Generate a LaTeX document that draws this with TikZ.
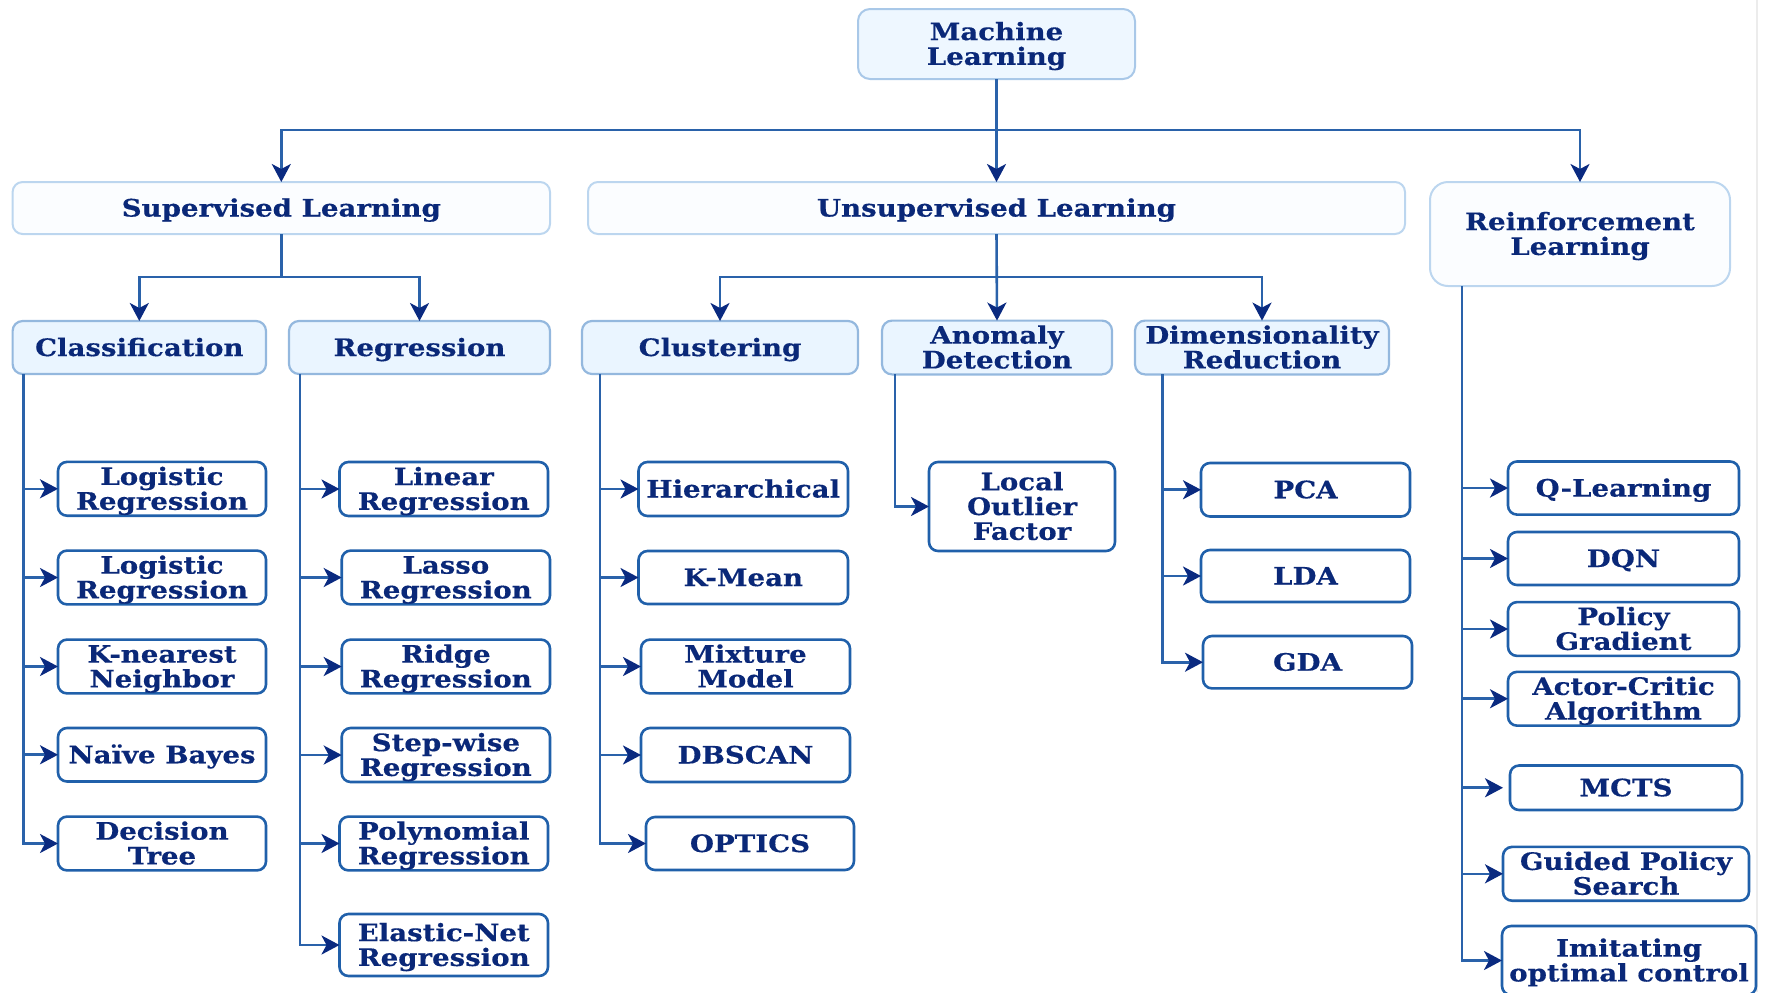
\documentclass[tikz,border=0pt]{standalone}
\usepackage{fontspec}
\setmainfont[FakeStretch=1.15,FakeBold=0.4]{DejaVu Serif}
\usetikzlibrary{arrows.meta}
\definecolor{txt}{HTML}{0A2878}
\definecolor{mlfill}{HTML}{EEF7FF}
\definecolor{mlline}{HTML}{A9C8E8}
\definecolor{topfill}{HTML}{FBFDFF}
\definecolor{topline}{HTML}{BCD6EF}
\definecolor{midfill}{HTML}{EAF5FF}
\definecolor{midline}{HTML}{94B8DE}
\definecolor{leafline}{HTML}{2060AA}
\definecolor{connc}{HTML}{2A62AA}
\definecolor{tipc}{HTML}{0A2A80}
\newcommand\bx[7]{%
  \pgfmathsetmacro\bxcx{(#3+#5)/2}%
  \pgfmathsetmacro\bxcy{(#4+#6)/2}%
  \pgfmathsetmacro\bxw{(#5-#3)*0.5}%
  \pgfmathsetmacro\bxh{(#6-#4)*0.5}%
  \node[#1,minimum width=\bxw pt,minimum height=\bxh pt] (#2) at (\bxcx,\bxcy)
    {\rule{0pt}{11.5pt}#7\rule[-3pt]{0pt}{3pt}};}
\tikzset{
  base/.style={rectangle, align=center, inner sep=0pt, outer sep=0pt, text=txt,
    font=\bfseries\fontsize{12}{12.4}\selectfont},
  mlbox/.style={base, fill=mlfill, draw=mlline, line width=1pt, rounded corners=6pt},
  topbox/.style={base, fill=topfill, draw=topline, line width=1pt, rounded corners=5pt},
  rlbox/.style={base, fill=topfill, draw=topline, line width=1pt, rounded corners=9pt},
  midbox/.style={base, fill=midfill, draw=midline, line width=1.1pt, rounded corners=5pt},
  leaf/.style={base, fill=white, draw=leafline, line width=1.3pt, rounded corners=4.5pt},
  conn/.style={draw=connc, line width=1.3pt},
  arr/.style={conn, -{Stealth[length=9pt,width=9.5pt,inset=2.5pt,color=tipc]}},
}
\begin{document}
\begin{tikzpicture}[x=0.5pt,y=-0.5pt]
\useasboundingbox (0,0) rectangle (1765,992);
\draw[gray!15, line width=0.6pt] (1757,0) -- (1757,992);
% level 0/1
\bx{mlbox}{ml}{858}{9}{1135}{79}{Machine\\Learning}
\bx{topbox}{sup}{12.6}{182}{550}{234}{Supervised Learning}
\bx{topbox}{uns}{588}{182}{1405}{234}{Unsupervised Learning}
\bx{rlbox}{rl}{1430}{182}{1730}{286}{Reinforcement\\Learning}
% level 2
\bx{midbox}{cls}{12.6}{321}{266}{374}{Classification}
\bx{midbox}{reg}{289}{321}{550}{374}{Regression}
\bx{midbox}{clu}{582}{321}{858}{374}{Clustering}
\bx{midbox}{ano}{882}{321}{1112}{374}{Anomaly\\Detection}
\bx{midbox}{dim}{1135}{321}{1389}{374}{Dimensionality\\Reduction}
% classification leaves
\bx{leaf}{lr1}{58}{462}{266}{515.6}{Logistic\\Regression}
\bx{leaf}{lr2}{58}{551}{266}{604}{Logistic\\Regression}
\bx{leaf}{knn}{58}{640}{266}{693}{K-nearest\\Neighbor}
\bx{leaf}{nb}{58}{728}{266}{781.5}{Naïve Bayes}
\bx{leaf}{dt}{58}{817}{266}{870}{Decision\\Tree}
% regression leaves
\bx{leaf}{lin}{339.5}{462}{548}{516}{Linear\\Regression}
\bx{leaf}{las}{341.7}{551}{550}{604}{Lasso\\Regression}
\bx{leaf}{rid}{341.7}{640}{550}{693}{Ridge\\Regression}
\bx{leaf}{stp}{341.7}{728}{550}{782}{Step-wise\\Regression}
\bx{leaf}{pol}{339.5}{817}{548}{870}{Polynomial\\Regression}
\bx{leaf}{ela}{339.5}{914}{548}{976}{Elastic-Net\\Regression}
% clustering leaves
\bx{leaf}{hie}{638.5}{462}{848}{516}{Hierarchical}
\bx{leaf}{kme}{638.5}{551}{848}{604}{K-Mean}
\bx{leaf}{mix}{641}{640}{850}{693}{Mixture\\Model}
\bx{leaf}{dbs}{641}{728}{850}{782}{DBSCAN}
\bx{leaf}{opt}{646}{817}{854}{870}{OPTICS}
% anomaly
\bx{leaf}{lof}{929}{462}{1115}{551}{Local\\Outlier\\Factor}
% dimensionality
\bx{leaf}{pca}{1201}{463}{1410}{516.5}{PCA}
\bx{leaf}{lda}{1201}{550}{1410}{602}{LDA}
\bx{leaf}{gda}{1203}{636}{1412}{688.4}{GDA}
% RL leaves
\bx{leaf}{ql}{1508}{461.5}{1739}{514.6}{Q-Learning}
\bx{leaf}{dqn}{1508}{532}{1739}{585}{DQN}
\bx{leaf}{pg}{1508}{603}{1739}{655}{Policy\\Gradient}
\bx{leaf}{ac}{1508}{672.5}{1739}{725}{Actor-Critic\\Algorithm}
\bx{leaf}{mcts}{1510}{765.5}{1742}{810}{MCTS}
\bx{leaf}{gps}{1503}{848.6}{1749}{899}{Guided Policy\\Search}
\bx{leaf}{imi}{1502}{926}{1756}{995}{Imitating\\optimal control}
% junctions
\coordinate (j0) at (ml.south |- 0,130);
\coordinate (j1) at (sup.south |- 0,277);
\coordinate (j2) at (uns.south |- 0,277);
\coordinate (cb) at (23.7,374);
\coordinate (rb) at (300,374);
\coordinate (ub) at (600,374);
\coordinate (ab) at (895,374);
\coordinate (db) at (1162.5,374);
\coordinate (qb) at (1462,286);
% top connectors
\draw[arr] (ml.south) -- (uns.north);
\draw[arr] (j0) -| (sup.north);
\draw[arr] (j0) -| (rl.north);
\draw[conn] (sup.south) -- (j1);
\draw[arr] (j1) -| (cls.north);
\draw[arr] (j1) -| (reg.north);
\draw[arr] (uns.south) -- (ano.north);
\draw[arr] (j2) -| (clu.north);
\draw[arr] (j2) -| (dim.north);
% classification
\draw[arr] (cb) |- (dt.west);
\foreach \n in {lr1,lr2,knn,nb} \draw[arr] (cb |- \n.west) -- (\n.west);
% regression
\draw[arr] (rb) |- (ela.west);
\foreach \n in {lin,las,rid,stp,pol} \draw[arr] (rb |- \n.west) -- (\n.west);
% clustering
\draw[arr] (ub) |- (opt.west);
\foreach \n in {hie,kme,mix,dbs} \draw[arr] (ub |- \n.west) -- (\n.west);
% anomaly
\draw[arr] (ab) |- (lof.west);
% dimensionality
\draw[arr] (db) |- (gda.west);
\foreach \n in {pca,lda} \draw[arr] (db |- \n.west) -- (\n.west);
% RL
\draw[arr] (qb) |- (imi.west);
\foreach \n in {ql,dqn,pg,ac,gps} \draw[arr] (qb |- \n.west) -- (\n.west);
\draw[arr, shorten >=3.5pt] (qb |- mcts.west) -- (mcts.west);
\end{tikzpicture}
\end{document}
